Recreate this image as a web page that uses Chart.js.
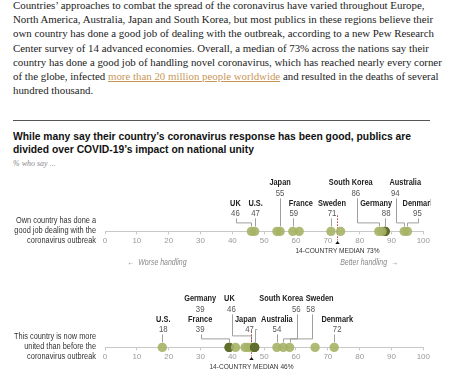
<!DOCTYPE html>
<html>
<head>
<meta charset="utf-8">
<script src="https://cdn.jsdelivr.net/npm/chart.js@4.4.1/dist/chart.umd.min.js"></script>
<style>
  html, body { margin:0; padding:0; background:#fff; }
  body { width:450px; height:375px; overflow:hidden; position:relative; }
  .para { position:absolute; left:13px; top:-2px; font-family:"Liberation Serif", "DejaVu Serif", serif; font-size:11px; line-height:14.2px; color:#222; white-space:nowrap; }
  .para span { display:block; }
  .para span.l1 { display:inline-block; }
  .para a { color:#c8975a; text-decoration:underline; }
  .rule { position:absolute; left:13px; top:120px; width:417px; height:1px; background:#555; }
  .title { position:absolute; left:13px; top:130px; font-family:"Liberation Sans",Arial,sans-serif; font-weight:bold; font-size:11px; line-height:13.4px; color:#111; white-space:nowrap; transform-origin:0 0; }
  .title span { display:block; }
  .title span.l1 { display:inline-block; }
  .sub { position:absolute; left:13px; top:159px; font-family:"Liberation Serif",serif; font-style:italic; font-size:8px; color:#888; }
  canvas { position:absolute; left:0; }
</style>
</head>
<body>
<div class="para" id="para"><span class="l1">Countries’ approaches to combat the spread of the coronavirus have varied throughout Europe,</span><span>North America, Australia, Japan and South Korea, but most publics in these regions believe their</span><span>own country has done a good job of dealing with the outbreak, according to a new Pew Research</span><span>Center survey of 14 advanced economies. Overall, a median of 73% across the nations say their</span><span>country has done a good job of handling novel coronavirus, which has reached nearly every corner</span><span>of the globe, infected <a>more than 20 million people worldwide</a> and resulted in the deaths of several</span><span>hundred thousand.</span></div>
<div class="rule"></div>
<div class="title" id="title"><span class="l1">While many say their country’s coronavirus response has been good, publics are</span><span>divided over COVID-19’s impact on national unity</span></div>
<div class="sub">% who say ...</div>
<canvas id="c1" width="432" height="100"></canvas>
<canvas id="c2" width="432" height="100"></canvas>
<script>
// ---- data ----
const countries = ['U.S.','Canada','UK','France','Germany','Italy','Spain','Netherlands','Sweden','Denmark','Belgium','Australia','Japan','South Korea'];
const goodJob    = [47, 88, 46, 59, 88, 74, 54, 87, 71, 95, 61, 94, 55, 86];
const moreUnited = [18, 66, 46, 39, 39, 45, 44, 47, 58, 72, 41, 54, 47, 56];
const medians = [73, 46];
const rowLabels = [
  ['Own country has done a','good job dealing with the','coronavirus outbreak'],
  ['This country is now more','united than before the','coronavirus outbreak']
];
const tickValues = [0,10,20,30,40,50,60,70,80,90,100];

// ---- fit header text widths ----
(function(){
  const para = document.getElementById('para');
  const w1 = para.querySelector('.l1').getBoundingClientRect().width;
  para.style.fontSize = (11 * 412 / w1).toFixed(2) + 'px';
  const title = document.getElementById('title');
  const t1 = title.querySelector('.l1').getBoundingClientRect().width;
  title.style.transform = 'scaleX(' + (398 / t1).toFixed(4) + ')';
})();

// ---- annotation layout (positions/styles only) ----
const layoutTop = {
  'UK':          {row:1, dx:-16, ndx:0,  leader:'elbow'},
  'U.S.':        {row:1, dx:1,   ndx:0,  leader:'v'},
  'Japan':       {row:0, dx:0,   ndx:0,  leader:'v'},
  'France':      {row:1, dx:1,   ndx:7,  leader:'v'},
  'Sweden':      {row:1, dx:1,   ndx:0,  leader:'v'},
  'South Korea': {row:0, dx:-23, ndx:-5, leader:'elbow'},
  'Germany':     {row:1, dx:1,   ndx:-10,leader:'v'},
  'Australia':   {row:0, dx:-9,  ndx:10, leader:'elbow'},
  'Denmark':     {row:1, dx:10,  ndx:1,  leader:'elbow'}
};
const layoutBottom = {
  'U.S.':        {row:1, dx:1,   ndx:0,  leader:'v'},
  'France':      {row:1, dx:-29, ndx:0,  leader:'elbow'},
  'Germany':     {row:0, dx:-29, ndx:0,  leader:'none'},
  'UK':          {row:0, dx:-20, ndx:-2, leader:'elbow', ey:-12},
  'Japan':       {row:1, dx:-5,  ndx:-4, leader:'side'},
  'Australia':   {row:1, dx:0,   ndx:0,  leader:'v'},
  'South Korea': {row:0, dx:13,  ndx:-15,leader:'elbow'},
  'Sweden':      {row:0, dx:21,  ndx:9,  leader:'elbow'},
  'Denmark':     {row:1, dx:3,   ndx:0,  leader:'v'}
};

const FONT = '"Liberation Sans",Arial,sans-serif';
const SX = 0.82; // condensed text
const DOT = 'rgba(166,179,102,0.9)';
const DOT_DARK = '#5f6d2d';

function nText(ctx, text, x, y, align) {
  ctx.save();
  ctx.translate(x, y); ctx.scale(SX, 1);
  ctx.textAlign = align || 'center';
  ctx.fillText(text, 0, 0);
  ctx.restore();
}

function annotationPlugin(values, layout, median, labelLines, showArrows, clipRight) {
  return {
    id: 'annot',
    beforeDatasetsDraw(chart) {
      const ctx = chart.ctx, xs = chart.scales.x;
      const ay = xs.top;
      ctx.save();
      ctx.beginPath(); ctx.rect(0, 0, clipRight, chart.height); ctx.clip();
      ctx.textBaseline = 'middle';
      // leaders
      ctx.strokeStyle = '#9f9f9f'; ctx.lineWidth = 1;
      countries.forEach((c, i) => {
        const L = layout[c]; if (!L || L.leader === 'none') return;
        const dxp = Math.round(xs.getPixelForValue(values[i])) + 0.5;
        const lx = Math.round(dxp + L.dx) + 0.5;
        const numY = ay + (L.row === 0 ? -38 : -18);
        ctx.beginPath();
        if (L.leader === 'v') {
          ctx.moveTo(dxp, numY + 5); ctx.lineTo(dxp, ay - 5);
        } else if (L.leader === 'elbow') {
          const ey = ay + (L.ey || -9) + 0.5;
          ctx.moveTo(lx, numY + 5); ctx.lineTo(lx, ey); ctx.lineTo(dxp, ey); ctx.lineTo(dxp, ay - 5);
        } else if (L.leader === 'side') {
          ctx.font = '9.5px ' + FONT;
          const w = ctx.measureText(String(values[i])).width * SX;
          const sy = Math.round(numY) + 0.5;
          ctx.moveTo(lx + w / 2 + 1.5, sy); ctx.lineTo(dxp, sy); ctx.lineTo(dxp, ay - 5);
        }
        ctx.stroke();
      });
      // labels
      countries.forEach((c, i) => {
        const L = layout[c]; if (!L) return;
        const lx = xs.getPixelForValue(values[i]) + L.dx;
        const nameY = ay + (L.row === 0 ? -49 : -28);
        const numY = ay + (L.row === 0 ? -38 : -18);
        ctx.font = 'bold 9px ' + FONT; ctx.fillStyle = '#222';
        nText(ctx, c, lx + (L.ndx || 0), nameY);
        ctx.font = '9.5px ' + FONT; ctx.fillStyle = '#555';
        nText(ctx, String(values[i]), lx, numY);
      });
      // median
      const mx = Math.round(xs.getPixelForValue(median)) + 0.5;
      ctx.strokeStyle = '#c0392b'; ctx.setLineDash([1.5, 1.5]);
      ctx.beginPath(); ctx.moveTo(mx, ay - 16); ctx.lineTo(mx, ay + 9); ctx.stroke();
      ctx.setLineDash([]);
      ctx.fillStyle = '#111';
      ctx.beginPath(); ctx.moveTo(mx, ay + 9.5); ctx.lineTo(mx - 2.2, ay + 12.5); ctx.lineTo(mx + 2.2, ay + 12.5); ctx.closePath(); ctx.fill();
      ctx.font = '8px ' + FONT; ctx.fillStyle = '#333';
      nText(ctx, '14-COUNTRY MEDIAN ' + median + '%', mx, ay + 19);
      // row label
      ctx.fillStyle = '#333'; ctx.font = '9px ' + FONT;
      labelLines.forEach((t, k) => nText(ctx, t, 96, ay - 11 + k * 10, 'right'));
      if (showArrows) {
        ctx.font = 'italic 8.5px ' + FONT; ctx.fillStyle = '#888';
        nText(ctx, '←  Worse handling', xs.getPixelForValue(7), ay + 31, 'left');
        nText(ctx, 'Better handling  →', xs.getPixelForValue(92), ay + 31, 'right');
      }
      ctx.restore();
    }
  };
}

function makeChart(id, values, layout, median, labelLines, showArrows, axisY, clipRight) {
  const counts = {};
  values.forEach(v => counts[v] = (counts[v] || 0) + 1);
  const chart = new Chart(document.getElementById(id), {
    type: 'scatter',
    data: { datasets: [{
      data: values.map(v => ({x: v, y: 0})),
      pointRadius: 4.7, pointHoverRadius: 4.7, borderWidth: 0,
      backgroundColor: ctx => (ctx.raw && counts[ctx.raw.x] > 1) ? DOT_DARK : DOT,
      clip: false
    }]},
    options: {
      responsive: false, animation: false, events: [],
      layout: { padding: { left: 105, right: 7, top: 10, bottom: 20 } },
      plugins: { legend: {display:false}, tooltip: {enabled:false} },
      scales: {
        x: { type:'linear', min:0, max:100,
             afterBuildTicks: s => { s.ticks = tickValues.map(v => ({value: v})); },
             ticks: { color:'#999', font:{family:FONT, size:8}, padding:2, maxRotation:0 },
             grid: { drawOnChartArea:false, drawTicks:true, tickLength:3, color:'#c8c8c8' },
             border: { display:true, color:'#c8c8c8' } },
        y: { display:false, min:0, max:1 }
      }
    },
    plugins: [annotationPlugin(values, layout, median, labelLines, showArrows, clipRight)]
  });
  const cv = document.getElementById(id);
  cv.style.top = (axisY - chart.scales.x.top) + 'px';
  return chart;
}

makeChart('c1', goodJob, layoutTop, medians[0], rowLabels[0], true, 231, 430.5);
makeChart('c2', moreUnited, layoutBottom, medians[1], rowLabels[1], false, 347, 432);
</script>
</body>
</html>
